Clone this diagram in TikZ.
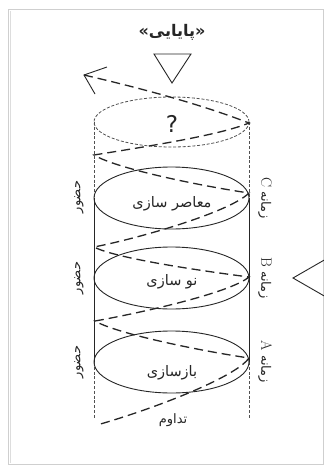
\documentclass[tikz,border=0pt]{standalone}
\usepackage{fontspec}
\usetikzlibrary{shapes.geometric}
\TeXXeTstate=1
\newfontfamily\fafont[Script=Arabic]{DejaVu Sans}
\newfontfamily\lsans{DejaVu Sans}
\definecolor{ink}{HTML}{262626}
\definecolor{framegray}{HTML}{CFCFCF}
\begin{document}
\begin{tikzpicture}[x=1pt,y=-1pt,
  solidline/.style={draw=ink,line width=0.9pt},
  finedash/.style={draw=ink!80,line width=0.8pt,dash pattern=on 3pt off 1.8pt},
  helix/.style={draw=ink,line width=1.3pt,dash pattern=on 9pt off 5pt},
  ring/.style={ellipse,draw=ink,line width=0.9pt,minimum width=155pt,minimum height=62pt,inner sep=0pt},
  ringtext/.style={font=\fontsize{14.5}{16}\selectfont\fafont,text=ink},
  sidetext/.style={font=\fontsize{13}{15}\selectfont\fafont,text=ink},
  marker/.style={draw=ink,line width=0.9pt}]
\useasboundingbox (0,0) rectangle (324,467);
\fill[white] (0,0) rectangle (324,467);

% page frame
\draw[framegray,line width=1pt] (8,9.5) -- (323,9.5) -- (323,464) -- (8,464) -- cycle;
\draw[framegray!70,line width=1pt] (10.5,11) -- (10.5,462.5);

% title and pointer
\node[font=\fontsize{16}{18}\selectfont\bfseries\fafont,text=ink] (title) at (172,32) {\beginR «پایایی»\endR};
\draw[marker] (154,54) coordinate (tA) -- (191,54) coordinate (tB) -- (172,83) coordinate (tC) -- cycle;

% pointer on the right
\draw[marker] (326,259) coordinate (rA) -- (293,278) coordinate (rB) -- (326,297) coordinate (rC);

% cylinder axis points
\coordinate (topL) at (94,122);
\coordinate (topR) at (249,122);
\coordinate (cL) at (94,198);
\coordinate (cR) at (249,198);
\coordinate (aL) at (94,362);
\coordinate (aR) at (249,362);
\coordinate (baseL) at (94,418);
\coordinate (baseR) at (249,418);

% open top
\draw[finedash] (171.5,122) ellipse [x radius=77.5pt,y radius=25pt];
\node[font=\fontsize{23}{25}\selectfont\lsans,text=ink] (q) at (172,124) {?};
\draw[finedash] (topL) -- (cL);
\draw[finedash] (topR) -- (cR);

% solid body
\draw[solidline] (cL) -- (aL);
\draw[solidline] (cR) -- (aR);
\draw[finedash] (aL) -- (baseL);
\draw[finedash] (aR) -- (baseR);

% stages
\node[ring] (C) at (171.5,198) {};
\node[ring] (B) at (171.5,278) {};
\node[ring] (A) at (171.5,362) {};
\node[ringtext] (Ct) at (172,204) {\beginR معاصر سازی\endR};
\node[ringtext] (Bt) at (172,282) {\beginR نو سازی\endR};
\node[ringtext] (At) at (172,373) {\beginR بازسازی\endR};

% side labels
\node[sidetext,rotate=90] (pC) at (79,197) {\beginR حضور\endR};
\node[sidetext,rotate=90] (pB) at (79,278) {\beginR حضور\endR};
\node[sidetext,rotate=90] (pA) at (79,362) {\beginR حضور\endR};
\node[sidetext,rotate=-90] (zC) at (265,198) {\beginR زمانه {\rmfamily\fontsize{15}{15}\selectfont C}\endR};
\node[sidetext,rotate=-90] (zB) at (265,278) {\beginR زمانه {\rmfamily\fontsize{15}{15}\selectfont B}\endR};
\node[sidetext,rotate=-90] (zA) at (265,362) {\beginR زمانه {\rmfamily\fontsize{15}{15}\selectfont A}\endR};
\node[sidetext] (dur) at (173,420) {\beginR تداوم\endR};

% spiral
\coordinate (h0) at (84,75);
\coordinate (h1) at (249,123);
\coordinate (h2) at (94,155);
\coordinate (h3) at (249,193);
\coordinate (h4) at (94,247);
\coordinate (h5) at (249,277);
\coordinate (h6) at (95,321);
\coordinate (h7) at (249,358);
\coordinate (h8) at (97,425);
\draw[helix] (h0) .. controls (140,88) and (200,104) .. (h1)
  .. controls (220,135) and (150,146) .. (h2)
  .. controls (115,168) and (195,185) .. (h3)
  .. controls (230,212) and (140,238) .. (h4)
  .. controls (115,258) and (195,270) .. (h5)
  .. controls (230,293) and (140,313) .. (h6)
  .. controls (115,333) and (195,350) .. (h7)
  .. controls (235,378) and (150,410) .. (h8);
\draw[marker] (107,67) coordinate (hx1) -- (h0) -- (95,94) coordinate (hx2);
\end{tikzpicture}
\end{document}
